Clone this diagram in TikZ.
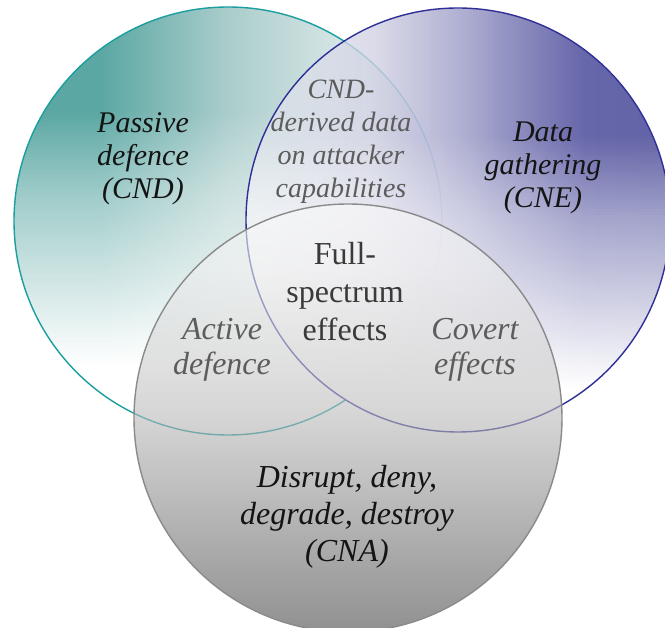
\documentclass[tikz,border=0pt]{standalone}
\usepackage{fontspec}
\setmainfont{Liberation Serif}
\newfontfamily\lserif{Liberation Serif}
\usetikzlibrary{fadings}

\definecolor{tealA}{RGB}{90,167,163}
\definecolor{tealB}{RGB}{170,205,203}
\definecolor{tealC}{RGB}{210,227,227}
\definecolor{tealD}{RGB}{234,241,241}
\definecolor{purA}{RGB}{234,234,242}
\definecolor{purB}{RGB}{210,210,228}
\definecolor{purC}{RGB}{165,165,205}
\definecolor{purD}{RGB}{102,102,170}
\definecolor{purE}{RGB}{98,98,166}
\definecolor{tealline}{RGB}{26,158,158}
\definecolor{purline}{RGB}{46,46,150}
\definecolor{grayline}{RGB}{138,138,138}
\definecolor{grA}{RGB}{250,250,250}
\definecolor{grB}{RGB}{238,238,238}
\definecolor{grC}{RGB}{185,185,185}
\definecolor{grD}{RGB}{140,140,140}
\definecolor{grE}{RGB}{105,105,105}
\definecolor{grF}{RGB}{72,72,72}
\definecolor{txtgray}{RGB}{92,92,92}
\definecolor{txtdark}{RGB}{58,58,58}

\pgfdeclarehorizontalshading{tealsh}{100bp}{color(0bp)=(tealA); color(25bp)=(tealA); color(35bp)=(tealA); color(50bp)=(tealB); color(62bp)=(tealC); color(75bp)=(tealD); color(100bp)=(tealD)}
\pgfdeclarehorizontalshading{pursh}{100bp}{color(0bp)=(purA); color(25bp)=(purA); color(40bp)=(purB); color(52bp)=(purC); color(65bp)=(purD); color(75bp)=(purE); color(100bp)=(purE)}
\pgfdeclareverticalshading{graysh}{100bp}{color(0bp)=(grF); color(25bp)=(grF); color(32.5bp)=(grE); color(40bp)=(grD); color(50bp)=(grC); color(67.5bp)=(grB); color(75bp)=(grA); color(100bp)=(grA)}
\pgfdeclarehorizontalshading{rfadesh}{100bp}{color(0bp)=(white!55!black); color(25bp)=(white!55!black); color(45bp)=(white!88!black); color(55bp)=(white); color(100bp)=(white)}

\begin{tikzfadingfrompicture}[name=rfade]
  \shade[shading=rfadesh] (-25pt,-25pt) rectangle (25pt,25pt);
\end{tikzfadingfrompicture}

\tikzset{
  mainlbl/.style={align=center, inner sep=0pt, text=black!92, font=\lserif\fontsize{30}{33}\selectfont\itshape},
  botlbl/.style={align=center, inner sep=0pt, text=black!92, font=\lserif\fontsize{32}{37}\selectfont\itshape},
  graylbl/.style={align=center, inner sep=0pt, text=txtgray, font=\lserif\fontsize{32}{35}\selectfont\itshape},
  smallgraylbl/.style={align=center, inner sep=0pt, text=txtgray, font=\lserif\fontsize{28}{33}\selectfont\itshape},
  centerlbl/.style={align=center, inner sep=0pt, text=txtdark, font=\lserif\fontsize{32}{38}\selectfont},
  ringL/.style={draw=tealline, line width=1.4pt},
  ringR/.style={draw=purline, line width=1.4pt},
  ringB/.style={draw=grayline, line width=1.4pt}
}

% white veil that grows towards the bottom of a circle
% #1 = circle centre, #2 = radius, #3 = top y, #4 = shift of the ramp
\newcommand{\whiteveil}[4]{%
  \begin{scope}
    \clip #1 circle[radius=#2pt];
    \foreach \k in {0,...,144}{%
      \pgfmathsetmacro\yy{#3+3*\k}%
      \pgfmathsetmacro\tt{(\yy+1.5-#3)/(2*#2)+#4}%
      \pgfmathsetmacro\aa{\tt<0.5 ? (\tt-0.3)*2.1 : 0.42+(\tt-0.5)*1.46}%
      \pgfmathsetmacro\aa{max(0,min(1,\aa))}%
      \fill[white, fill opacity=\aa] (0,\yy) rectangle (665,\yy+3);
    }
  \end{scope}%
}

\begin{document}
\begin{tikzpicture}[x=1pt,y=-1pt]
\useasboundingbox (0,0) rectangle (665,628);
\fill[white] (0,0) rectangle (665,628);

\coordinate (cL) at (228,221);
\coordinate (cR) at (458,220);
\coordinate (cB) at (348,418);

% left circle (passive defence)
\shade[shading=tealsh] (cL) circle[radius=214pt];
\whiteveil{(cL)}{214}{7}{0.06}
\draw[ringL] (cL) circle[radius=214pt];

% right circle (data gathering)
\shade[shading=pursh, path fading=rfade] (cR) circle[radius=212pt];
\whiteveil{(cR)}{212}{8}{0}
\draw[ringR] (cR) circle[radius=212pt];

% bottom circle (attack)
\shade[shading=graysh, fill opacity=0.6] (cB) circle[radius=214pt];
\draw[ringB] (cB) circle[radius=214pt];

% labels
\node[mainlbl] (passive) at (143,159) {Passive\\defence\\(CND)};
\node[mainlbl] (gather) at (543,168) {Data\\gathering\\(CNE)};
\node[smallgraylbl] (cndder) at (341,142) {CND-\\derived data\\on attacker\\capabilities};
\node[centerlbl] (full) at (345,292) {Full-\\spectrum\\effects};
\node[graylbl] (active) at (222,350) {Active\\defence};
\node[graylbl] (covert) at (475,350) {Covert\\effects};
\node[botlbl] (cna) at (347,517) {Disrupt, deny,\\degrade, destroy\\(CNA)};
\end{tikzpicture}
\end{document}
